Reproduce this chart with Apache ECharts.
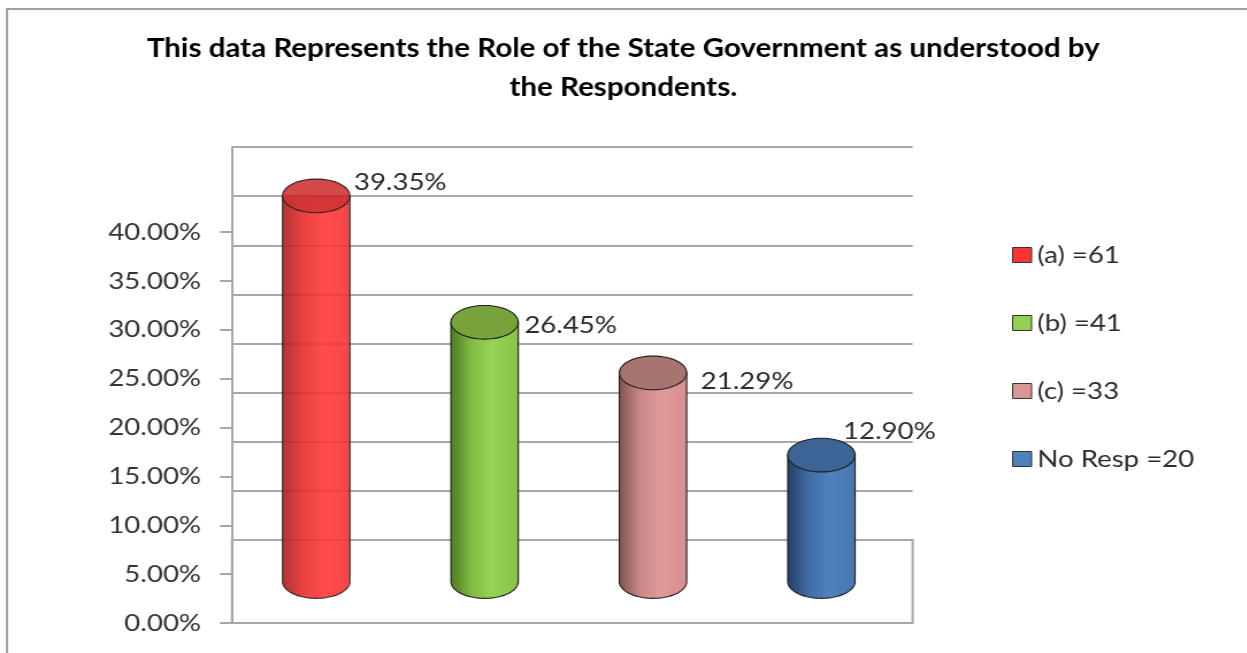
<!DOCTYPE html>
<html>
<head>
<meta charset="utf-8">
<script src="https://cdn.jsdelivr.net/npm/echarts@6/dist/echarts.min.js"></script>
<style>
  html, body { margin: 0; padding: 0; background: #fff; overflow: hidden; }
  #chart { height: 653px; transform-origin: 0 0; }
</style>
</head>
<body>
<div id="chart"></div>
<script>
// Responses: category labels and their share of respondents (%)
const categories = ['(a) =61', '(b) =41', '(c) =33', 'No Resp =20'];
const shares = [39.35, 26.45, 21.29, 12.90];

// Value axis range and step (%)
const axisMin = 0;
const axisMax = 40;
const axisStep = 5;

// Cylinder colours: body gradient stops, top cap, legend swatch
const palettes = [
  { body: ['#a81e1e', '#e52c2c', '#ff3838', '#f33232'], cap: '#cf3434', swatch: '#ff3333', opacity: 0.9 },
  { body: ['#4e7a22', '#80b942', '#96d454', '#86c448'], cap: '#76a33c', swatch: '#92d050', opacity: 1 },
  { body: ['#7e5252', '#c88686', '#e29a9a', '#d68e8e'], cap: '#a87472', swatch: '#d99694', opacity: 1 },
  { body: ['#243f63', '#3f6ca4', '#4f81bd', '#4676ae'], cap: '#3c6494', swatch: '#4f81bd', opacity: 1 }
];

// Page geometry: the drawing is laid out on a narrower canvas and widened
const PAGE_W = 1247;
const STRETCH = 1.15;
const W = PAGE_W / STRETCH;
const sx = (px) => px / STRETCH;   // page x-distance -> canvas x-distance

// Per-bar nudges of the value labels relative to the top-right of each cylinder (page px)
const labelNudges = [[4, -14], [6, 3], [14, 8], [-12, -24]];

const FONT = 'Lato, "Open Sans", sans-serif';
const GRID_GREY = '#a8a8a8';

function ellipsePoints(cx, cy, rx, ry, from, to, steps) {
  const pts = [];
  for (let k = 0; k <= steps; k++) {
    const t = from + (to - from) * k / steps;
    pts.push([cx + rx * Math.cos(t), cy + ry * Math.sin(t)]);
  }
  return pts;
}

function renderCylinder(params, api) {
  const i = params.seriesIndex;
  const pal = palettes[i];
  const top = api.coord([api.value(0), api.value(1)]);
  const base = api.coord([api.value(0), axisMin]);
  const rx = api.size([1, 0])[0] * 0.2;
  const ry = rx * STRETCH * 0.5;
  const cx = top[0];

  // body: left side, lower half of the base ellipse, right side
  const bodyPts = [[cx - rx, top[1]]]
    .concat(ellipsePoints(cx, base[1], rx, ry, Math.PI, 0, 40))
    .concat([[cx + rx, top[1]]]);
  const capPts = ellipsePoints(cx, top[1], rx, ry, 0, Math.PI * 2, 64);

  const grad = new echarts.graphic.LinearGradient(0, 0, 1, 0, [
    { offset: 0, color: pal.body[0] },
    { offset: 0.3, color: pal.body[1] },
    { offset: 0.6, color: pal.body[2] },
    { offset: 1, color: pal.body[3] }
  ]);

  const nudge = labelNudges[i];
  return {
    type: 'group',
    children: [
      {
        type: 'polygon',
        shape: { points: bodyPts },
        style: { fill: grad, stroke: '#1e1e1e', lineWidth: 1.1, opacity: pal.opacity }
      },
      {
        type: 'polygon',
        shape: { points: capPts },
        style: { fill: pal.cap, stroke: '#1e1e1e', lineWidth: 1.1, opacity: pal.opacity }
      },
      {
        type: 'text',
        x: cx + rx + sx(nudge[0]),
        y: top[1] + nudge[1],
        style: {
          text: api.value(1).toFixed(2) + '%',
          fill: '#2b2b2b',
          font: '24px ' + FONT,
          textAlign: 'left',
          textVerticalAlign: 'middle'
        }
      }
    ]
  };
}

const hiddenCat = (gridIndex) => ({
  type: 'category', gridIndex: gridIndex, data: categories,
  axisLine: { show: false }, axisTick: { show: false }, axisLabel: { show: false }, splitLine: { show: false }
});
const hiddenVal = (gridIndex, extra) => Object.assign({
  type: 'value', gridIndex: gridIndex, min: axisMin, max: axisMax, interval: axisStep,
  axisLine: { show: false }, axisTick: { show: false }, axisLabel: { show: false }, splitLine: { show: false }
}, extra || {});

const option = {
  backgroundColor: '#ffffff',
  animation: false,
  title: {
    text: 'This data Represents the Role of the State Government as understood by\nthe Respondents.',
    left: 'center',
    top: 24,
    padding: [5, 5, 5, 13],
    textStyle: { fontFamily: FONT, fontSize: 25.7, fontWeight: 'bold', color: '#000', lineHeight: 39 }
  },
  legend: {
    orient: 'vertical',
    left: sx(1012),
    top: 243,
    padding: 0,
    itemWidth: sx(19),
    itemHeight: 15,
    itemGap: 44,
    icon: 'rect',
    textStyle: { fontFamily: FONT, fontSize: 24, color: '#2b2b2b', lineHeight: 24 },
    data: categories.map((name, i) => ({
      name: name,
      itemStyle: { color: palettes[i].swatch, borderColor: '#333', borderWidth: 1 }
    }))
  },
  graphic: [
    {
      type: 'rect',
      shape: { x: sx(7), y: 9, width: W + 40, height: 700 },
      style: { fill: 'none', stroke: '#a0a0a0', lineWidth: 2 },
      silent: true
    }
  ],
  grid: [
    // front plane: carries the value scale
    { left: sx(232), right: sx(PAGE_W - 906), top: 232, bottom: 30 },
    // back wall
    { left: sx(232), right: sx(PAGE_W - 913), top: 147, bottom: 113 },
    // floor
    { left: sx(232), right: sx(PAGE_W - 913), top: 540, bottom: 30, show: true, borderColor: GRID_GREY, borderWidth: 2, backgroundColor: 'transparent' },
    // mid-depth plane where the cylinders stand
    { left: sx(232), right: sx(PAGE_W - 906), top: 189.5, bottom: 71.5 }
  ],
  xAxis: [hiddenCat(0), hiddenCat(1), hiddenCat(2), hiddenCat(3)],
  yAxis: [
    hiddenVal(0, {
      axisLine: { show: true, lineStyle: { color: GRID_GREY, width: 2 } },
      axisTick: { show: true, inside: false, length: sx(12), lineStyle: { color: GRID_GREY, width: 2 } },
      axisLabel: {
        show: true, margin: sx(31), fontFamily: FONT, fontSize: 24, color: '#333',
        formatter: (v) => v.toFixed(2) + '%'
      }
    }),
    hiddenVal(1, {
      axisLine: { show: true, lineStyle: { color: GRID_GREY, width: 2 } },
      splitLine: { show: true, lineStyle: { color: GRID_GREY, width: 2 } }
    }),
    hiddenVal(2),
    hiddenVal(3)
  ],
  series: categories.map((name, i) => ({
    name: name,
    type: 'custom',
    xAxisIndex: 3,
    yAxisIndex: 3,
    itemStyle: { color: palettes[i].swatch },
    encode: { x: 0, y: 1 },
    renderItem: renderCylinder,
    data: [[i, shares[i]]],
    z: 3
  }))
};

const el = document.getElementById('chart');
el.style.width = W + 'px';
el.style.transform = 'scaleX(' + STRETCH + ')';
const chart = echarts.init(el, null, { renderer: 'canvas' });
chart.setOption(option);
</script>
</body>
</html>
